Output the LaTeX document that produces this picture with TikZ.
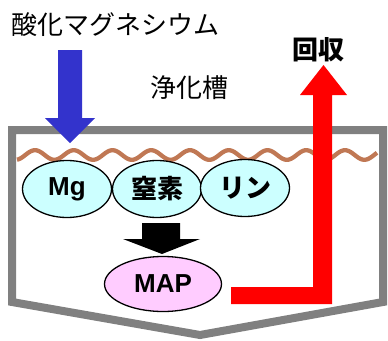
\documentclass[tikz,border=0pt]{standalone}
\usepackage{fontspec}
\usetikzlibrary{shapes.geometric}
\setmainfont{Liberation Sans}
\newfontfamily\jp{Noto Sans CJK JP}
\definecolor{tankgray}{RGB}{128,128,128}
\definecolor{wavebrown}{RGB}{192,120,84}
\definecolor{cyanfill}{RGB}{204,255,255}
\definecolor{pinkfill}{RGB}{255,204,255}
\definecolor{arrowblue}{RGB}{51,51,204}
\definecolor{arrowred}{RGB}{255,0,0}
\begin{document}
\begin{tikzpicture}[x=1pt,y=-1pt,
  jptext/.style={font=\jp\fontsize{26}{26}\selectfont, inner sep=0},
  jpbold/.style={font=\jp\bfseries\fontsize{26}{26}\selectfont, inner sep=0},
  ltbold/.style={font=\bfseries\fontsize{26}{26}\selectfont, inner sep=0},
  blob/.style={draw=black, line width=1.3pt, ellipse, inner sep=0, minimum width=89pt, minimum height=57pt, fill=cyanfill}
]
\useasboundingbox (0,0) rectangle (388,340);
% tank
\draw[tankgray, line width=8pt, line join=miter] (12,130) -- (383,130) -- (383,302) -- (200,335) -- (12,302) -- cycle;
% water surface wave
\draw[wavebrown, line width=4.3pt] plot[domain=17:377, samples=240, smooth] (\x, {155-4.8*cos(9.29*(\x-35))});
% substances
\node[blob] (mg) at (67,189) {};
\node[blob] (n) at (157,189) {};
\node[blob] (p) at (245,188) {};
\node[ltbold] at (mg) {Mg};
\node[jpbold] at (n) {窒素};
\node[jpbold] at (p) {リン};
% black arrow
\fill[black] (142,223) -- (180,223) -- (180,239) -- (200,239) -- (162,254) -- (123,239) -- (142,239) -- cycle;
% MAP
\node[blob, fill=pinkfill, minimum width=117pt, minimum height=55pt] (map) at (163,284) {};
\node[ltbold] at (map) {MAP};
% blue arrow
\fill[arrowblue] (58,50) -- (82,50) -- (82,118) -- (95,118) -- (70,143) -- (45,118) -- (58,118) -- cycle;
% red arrow
\fill[arrowred] (231,287) -- (313,287) -- (313,95) -- (300,95) -- (323.5,65) -- (347,95) -- (332,95) -- (332,304) -- (231,304) -- cycle;
% texts
\node[jptext] (mgo) at (115,25) {酸化マグネシウム};
\node[jpbold] (rec) at (318,50) {回収};
\node[jptext] (tank) at (189,88) {浄化槽};
\end{tikzpicture}
\end{document}
